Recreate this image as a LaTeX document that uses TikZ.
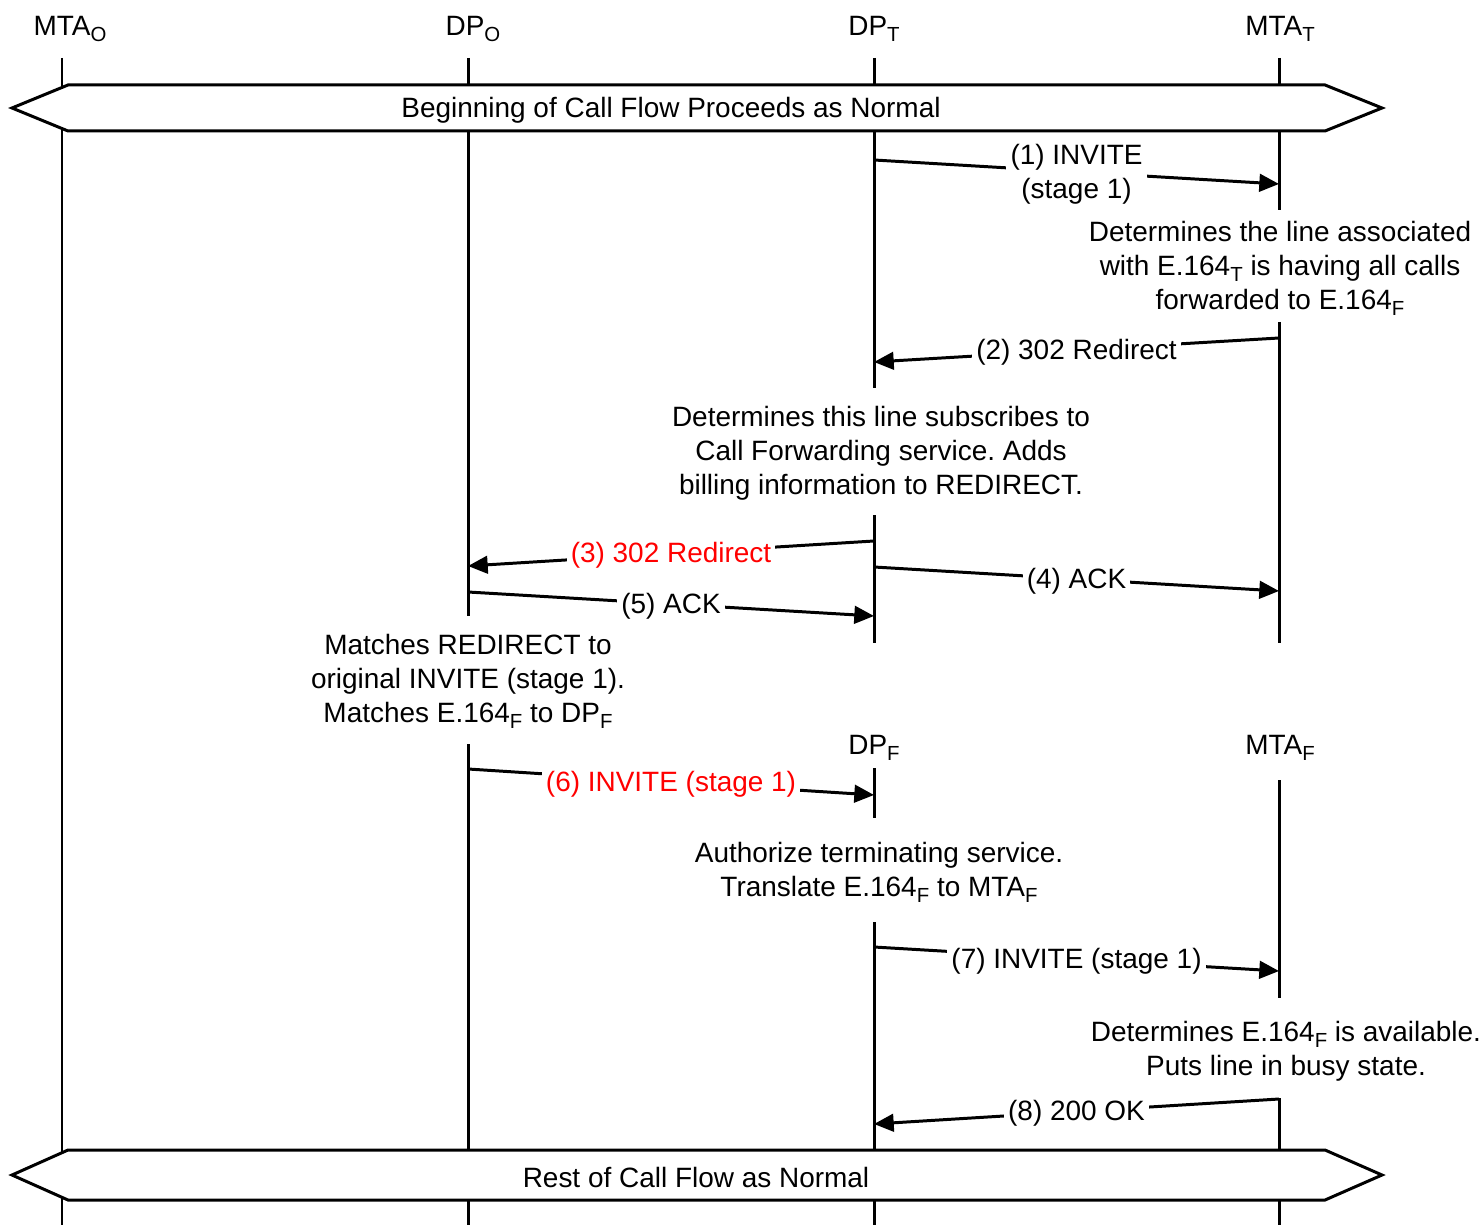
\documentclass[tikz,border=0pt]{standalone}
\usepackage{fontspec}
\setmainfont{Liberation Sans}
\usetikzlibrary{arrows.meta,positioning}
\newcommand{\lsub}[1]{\raisebox{-1.7pt}{\fontsize{5.8}{6}\selectfont #1}}
\frenchspacing

\begin{document}
\begin{tikzpicture}[x=0.01cm,y=-0.01cm,>={Triangle[length=5.6pt,width=5pt]},
  font=\fontsize{7.95}{9.65}\selectfont,
  txt/.style={yshift=-0.6pt},
  life/.style={line width=0.85pt},
  msg/.style={->,line width=0.85pt},
  lbl/.style={txt,fill=white,inner sep=1.2pt,align=center},
  note/.style={txt,align=center,inner sep=0pt},
  hdr/.style={txt,inner sep=0pt},
  band/.style={draw,fill=white,line width=0.85pt,line join=miter}]
  \useasboundingbox (0,0) rectangle (1483,1225);
  % 見出し
  \node[hdr] (hMTAo) at (70,27) {MTA\lsub{O}};
  \node[hdr] (hDPo) at (473,27) {DP\lsub{O}};
  \node[hdr] (hDPt) at (874,27) {DP\lsub{T}};
  \node[hdr] (hMTAt) at (1280,27) {MTA\lsub{T}};
  \node[hdr] (hDPf) at (874,746) {DP\lsub{F}};
  \node[hdr] (hMTAf) at (1280,746) {MTA\lsub{F}};
  % ライフライン
  \draw[life] (62,58) -- (62,1225);
  \draw[life] (468,58) -- (468,616) (468,744) -- (468,1225);
  \draw[life] (874,58) -- (874,388) (874,515) -- (874,643)
              (874,768) -- (874,818) (874,922) -- (874,1225);
  \draw[life] (1279,58) -- (1279,210) (1279,322) -- (1279,643)
              (1279,780) -- (1279,998) (1279,1098) -- (1279,1225);
  % 帯
  \draw[band] (12,108) -- (68,85) -- (1325,85) -- (1382,108) -- (1325,131) -- (68,131) -- cycle;
  \node[txt] (begin) at (671,108) {Beginning of Call Flow Proceeds as Normal};
  \draw[band] (12,1175) -- (68,1150) -- (1325,1150) -- (1382,1175) -- (1325,1200) -- (68,1200) -- cycle;
  \node[txt] (rest) at (696,1175) {Rest of Call Flow as Normal};
  % 処理の説明
  \node[note] (nMTAt) at (1280,266) {Determines the line associated\\with E.164\lsub{T} is having all calls\\forwarded to E.164\lsub{F}};
  \node[note] (nDPt) at (881,451) {Determines this line subscribes to\\Call Forwarding service. Adds\\billing information to REDIRECT.};
  \node[note] (nDPo) at (468,679) {Matches REDIRECT to\\original INVITE (stage 1).\\Matches E.164\lsub{F} to DP\lsub{F}};
  \node[note] (nDPf) at (879,870) {Authorize terminating service.\\Translate E.164\lsub{F} to MTA\lsub{F}};
  \node[note] (nMTAf) at (1286,1049) {Determines E.164\lsub{F} is available.\\Puts line in busy state.};
  % メッセージ
  \coordinate (m1a) at (874,160);  \coordinate (m1b) at (1279,184);
  \coordinate (m2a) at (1279,338); \coordinate (m2b) at (874,362);
  \coordinate (m3a) at (874,541);  \coordinate (m3b) at (468,566);
  \coordinate (m4a) at (874,567);  \coordinate (m4b) at (1279,591);
  \coordinate (m5a) at (468,592);  \coordinate (m5b) at (874,616);
  \coordinate (m6a) at (468,769);  \coordinate (m6b) at (874,795);
  \coordinate (m7a) at (874,947);  \coordinate (m7b) at (1279,971);
  \coordinate (m8a) at (1279,1099); \coordinate (m8b) at (874,1124);
  \draw[msg] (m1a) -- node[lbl] {(1) INVITE\\(stage 1)} (m1b);
  \draw[msg] (m2a) -- node[lbl] {(2) 302 Redirect} (m2b);
  \draw[msg] (m3a) -- node[lbl,text=red] {(3) 302 Redirect} (m3b);
  \draw[msg] (m4a) -- node[lbl] {(4) ACK} (m4b);
  \draw[msg] (m5a) -- node[lbl] {(5) ACK} (m5b);
  \draw[msg] (m6a) -- node[lbl,text=red] {(6) INVITE (stage 1)} (m6b);
  \draw[msg] (m7a) -- node[lbl] {(7) INVITE (stage 1)} (m7b);
  \draw[msg] (m8a) -- node[lbl] {(8) 200 OK} (m8b);
\end{tikzpicture}
\end{document}
